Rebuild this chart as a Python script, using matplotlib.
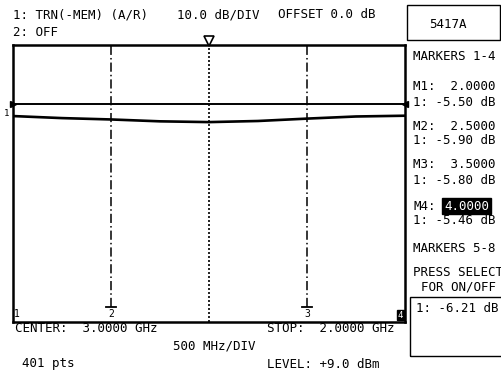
import matplotlib.pyplot as plt
from matplotlib.transforms import blended_transform_factory

# sweep trace (TRN - MEM), dB vs GHz
freq_ghz = [2.0, 2.25, 2.5, 2.75, 3.0, 3.25, 3.5, 3.75, 4.0]
trace_db = [-5.50, -5.74, -5.90, -6.12, -6.21, -6.08, -5.80, -5.55, -5.46]
mem_db = -4.1

marker_ids = ['1', '2', '3', '4']
marker_ghz = [2.0, 2.5, 3.5, 4.0]
marker_db = ['-5.50', '-5.90', '-5.80', '-5.46']
center_ghz = 3.0
span_ghz = (2.0, 4.0)
min_db = '-6.21'

W, H = 502, 370
fig = plt.figure(figsize=(W / 100, H / 100), dpi=100)
fig.patch.set_facecolor('white')
mono = 'DejaVu Sans Mono'
fs = 9


def px(x, y):
    return x / W, 1 - y / H


def label(x, y, s, **kw):
    fig.text(*px(x, y), s, family=mono, fontsize=kw.pop('size', fs),
             va='center', ha=kw.pop('ha', 'left'), **kw)


# plot area
ax = fig.add_axes([13 / W, 1 - 322 / H, (405 - 13) / W, (322 - 45) / H])
ax.set_xlim(*span_ghz)
ax.set_ylim(-29.7, 2.85)
ax.set_xticks([])
ax.set_yticks([])
for s in ax.spines.values():
    s.set_linewidth(1.8)
    s.set_color('black')

ax.axhline(mem_db, color='black', lw=1.4)
ax.plot(freq_ghz, trace_db, color='black', lw=1.9)

# reference arrows on the borders
ax.plot([span_ghz[0]], [mem_db], marker='>', ms=4, color='black', clip_on=False)
ax.plot([span_ghz[1]], [mem_db], marker='<', ms=4, color='black', clip_on=False)

bt = blended_transform_factory(ax.transData, ax.transAxes)

# center line with top triangle
ax.axvline(center_ghz, color='black', lw=1.2, ls=(0, (1.2, 1.2)))
ax.plot([center_ghz], [1.014], marker='v', ms=7, mfc='white', mec='black',
        mew=1.2, transform=bt, clip_on=False)

# marker lines and bottom tags
for mid, f in zip(marker_ids, marker_ghz):
    lo, hi = span_ghz
    if lo < f < hi:
        ax.plot([f, f], [0.054, 1.0], transform=bt, color='black', lw=1.1,
                ls=(0, (6, 2, 1, 2)))
        ax.plot([f - 0.025, f + 0.025], [0.054, 0.054], transform=bt,
                color='black', lw=1.3)
    xf = min(max(f, lo + 0.02), hi - 0.025)
    if mid == '4':
        ax.text(xf, 0.025, mid, transform=bt, family=mono, fontsize=6.5,
                ha='center', va='center', color='white',
                bbox=dict(boxstyle='square,pad=0.1', fc='black', ec='black'))
    else:
        ax.text(xf, 0.03, mid, transform=bt, family=mono, fontsize=7,
                ha='center', va='center')

fig.text(*px(7, 113), '1', family=mono, fontsize=6.5, va='center',
         ha='center')

# header
label(13, 15, '1: TRN(-MEM) (A/R)')
label(177, 15, '10.0 dB/DIV')
label(278, 15, 'OFFSET 0.0 dB')
label(13, 32, '2: OFF')

# footer
label(15, 328, 'CENTER:  3.0000 GHz')
label(267, 328, 'STOP:  2.0000 GHz')
label(173, 346, '500 MHz/DIV')
label(22, 364, '401 pts')
label(267, 364, 'LEVEL: +9.0 dBm')

# side panel
fig.patches.append(plt.Rectangle(px(407, 40), 93 / W, 35 / H,
                                 transform=fig.transFigure, fill=False,
                                 ec='black', lw=1.0))
label(448, 24, '5417A', ha='center')
label(413, 56, 'MARKERS 1-4')
ys = [87, 126, 165, 206]
for mid, f, db, y in zip(marker_ids, marker_ghz, marker_db, ys):
    if mid == '4':
        label(413, y, f'M{mid}:')
        label(444, y, f'{f:.4f}', color='white',
              bbox=dict(boxstyle='square,pad=0.15', fc='black', ec='black'))
    else:
        label(413, y, f'M{mid}:  {f:.4f}')
    label(413, y + 15, f'1: {db} dB')
label(413, 248, 'MARKERS 5-8')
label(413, 273, 'PRESS SELECT')
label(421, 287, 'FOR ON/OFF')

fig.patches.append(plt.Rectangle(px(410, 356), 100 / W, 59 / H,
                                 transform=fig.transFigure, fill=False,
                                 ec='black', lw=1.0, clip_on=False))
label(416, 309, f'1: {min_db} dB')

fig.savefig('out.png', dpi=100, facecolor='white')
